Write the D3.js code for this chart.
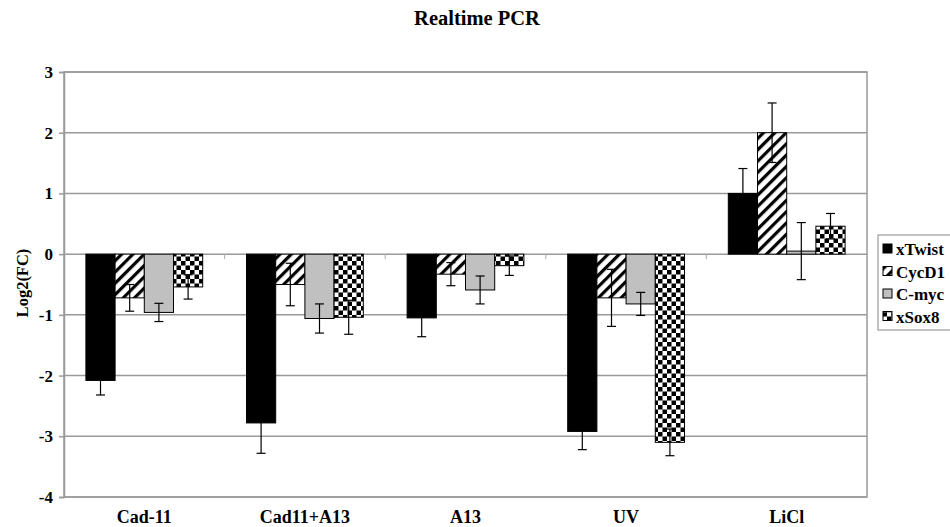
<!DOCTYPE html>
<html>
<head>
<meta charset="utf-8">
<script src="https://cdnjs.cloudflare.com/ajax/libs/d3/7.8.5/d3.min.js"></script>
<style>
  body { margin: 0; background: #fff; }
  svg text { font-family: "Liberation Serif", "DejaVu Serif", serif; font-weight: bold; }
</style>
</head>
<body>
<div id="chart"></div>
<script>
// data
var categories = ["Cad-11", "Cad11+A13", "A13", "UV", "LiCl"];
var series = ["xTwist", "CycD1", "C-myc", "xSox8"];
var xTwist = [-2.08, -2.78, -1.05, -2.92, 1.0];
var cycD1 = [-0.72, -0.5, -0.33, -0.72, 2.0];
var cMyc = [-0.96, -1.06, -0.59, -0.82, 0.05];
var xSox8 = [-0.54, -1.04, -0.19, -3.1, 0.46];
var errTwist = [0.24, 0.5, 0.31, 0.3, 0.41];
var errCyc = [0.22, 0.35, 0.19, 0.47, 0.49];
var errMyc = [0.15, 0.24, 0.23, 0.19, 0.47];
var errSox = [0.2, 0.28, 0.16, 0.22, 0.21];
var yTicks = [3, 2, 1, 0, -1, -2, -3, -4];

var values = [xTwist, cycD1, cMyc, xSox8];
var errors = [errTwist, errCyc, errMyc, errSox];

var W = 950, H = 527;
var margin = {top: 72, right: 83, bottom: 30, left: 64};
var width = W - margin.left - margin.right,
    height = H - margin.top - margin.bottom;

var svg = d3.select("#chart").append("svg")
    .attr("width", W).attr("height", H);

var defs = svg.append("defs");
// diagonal stripes for CycD1
var stripe = defs.append("pattern")
    .attr("id", "stripes").attr("patternUnits", "userSpaceOnUse")
    .attr("width", 8).attr("height", 8)
    .attr("patternTransform", "rotate(45)");
stripe.append("rect").attr("width", 8).attr("height", 8).attr("fill", "#fff");
stripe.append("rect").attr("width", 3.2).attr("height", 8).attr("fill", "#000");
// checkerboard for xSox8
var check = defs.append("pattern")
    .attr("id", "checker").attr("patternUnits", "userSpaceOnUse")
    .attr("width", 9).attr("height", 9);
check.append("rect").attr("width", 9).attr("height", 9).attr("fill", "#fff");
check.append("rect").attr("width", 4.5).attr("height", 4.5).attr("fill", "#000");
check.append("rect").attr("x", 4.5).attr("y", 4.5).attr("width", 4.5).attr("height", 4.5).attr("fill", "#000");

var fills = ["#000", "url(#stripes)", "#c0c0c0", "url(#checker)"];

var g = svg.append("g").attr("transform", "translate(" + margin.left + "," + margin.top + ")");

var x0 = d3.scaleBand().domain(categories).range([0, width]).padding(0);
var bw = x0.bandwidth();
var x1 = d3.scaleBand().domain(series)
    .range([bw * 0.75 / 5.5, bw * 4.75 / 5.5]).padding(0);
var y = d3.scaleLinear().domain([-4, 3]).range([height, 0]);

// gridlines
g.append("g").selectAll("line").data(yTicks).enter().append("line")
    .attr("x1", 0).attr("x2", width)
    .attr("y1", function (d) { return y(d); })
    .attr("y2", function (d) { return y(d); })
    .attr("stroke", "#9a9a9a").attr("stroke-width", 1.5);

// plot border
g.append("rect").attr("width", width).attr("height", height)
    .attr("fill", "none").attr("stroke", "#9a9a9a").attr("stroke-width", 1.5);

// y axis (plain hyphen for negatives, like the original)
var yAxis = g.append("g").call(d3.axisLeft(y).tickValues(yTicks)
    .tickFormat(function (d) { return String(d); }).tickSize(5).tickPadding(6));
yAxis.attr("font-family", null);
yAxis.select(".domain").attr("stroke", "#9a9a9a").attr("stroke-width", 1.5);
yAxis.selectAll(".tick line").attr("stroke", "#9a9a9a").attr("stroke-width", 1.5);
yAxis.selectAll("text").attr("font-size", 17).attr("fill", "#000");

// category ticks on the zero line
g.append("g").selectAll("line").data(categories.slice(1)).enter().append("line")
    .attr("x1", function (d) { return x0(d); }).attr("x2", function (d) { return x0(d); })
    .attr("y1", y(0)).attr("y2", y(0) + 5)
    .attr("stroke", "#aaa").attr("stroke-width", 1);

// bars
series.forEach(function (s, si) {
    var grp = g.append("g");
    grp.selectAll("rect").data(categories).enter().append("rect")
        .attr("x", function (c) { return x0(c) + x1(s); })
        .attr("width", x1.bandwidth())
        .attr("y", function (c, i) { return y(Math.max(0, values[si][i])); })
        .attr("height", function (c, i) { return Math.abs(y(values[si][i]) - y(0)); })
        .attr("fill", fills[si])
        .attr("stroke", "#000").attr("stroke-width", 1);
});

// error bars
series.forEach(function (s, si) {
    var eg = g.append("g").attr("stroke", "#000").attr("stroke-width", 1.2);
    categories.forEach(function (c, i) {
        var cx = x0(c) + x1(s) + x1.bandwidth() / 2;
        var v = values[si][i], e = errors[si][i];
        eg.append("line").attr("x1", cx).attr("x2", cx)
            .attr("y1", y(v - e)).attr("y2", y(v + e));
        [v - e, v + e].forEach(function (t) {
            eg.append("line").attr("x1", cx - 4.5).attr("x2", cx + 4.5)
                .attr("y1", y(t)).attr("y2", y(t));
        });
    });
});

// x labels
g.append("g").selectAll("text").data(categories).enter().append("text")
    .attr("x", function (c) { return x0(c) + bw / 2; })
    .attr("y", height + 26)
    .attr("text-anchor", "middle").attr("font-size", 18)
    .text(function (c) { return c; });

// title
svg.append("text").attr("x", 477).attr("y", 25).attr("text-anchor", "middle")
    .attr("font-size", 20.5).text("Realtime PCR");

// y label
svg.append("text").attr("transform", "translate(28,283) rotate(-90)")
    .attr("text-anchor", "middle").attr("font-size", 16.5).text("Log2(FC)");

// legend
var lg = svg.append("g").attr("transform", "translate(878,235)");
lg.append("rect").attr("width", 80).attr("height", 95)
    .attr("fill", "#fff").attr("stroke", "#9a9a9a").attr("stroke-width", 1.2);
series.forEach(function (s, si) {
    var row = lg.append("g").attr("transform", "translate(0," + (14 + si * 22.5) + ")");
    row.append("rect").attr("x", 5).attr("y", -5).attr("width", 9).attr("height", 9)
        .attr("fill", fills[si]).attr("stroke", "#000").attr("stroke-width", 1);
    row.append("text").attr("x", 18).attr("y", 6).attr("font-size", 17).text(s);
});
</script>
</body>
</html>
